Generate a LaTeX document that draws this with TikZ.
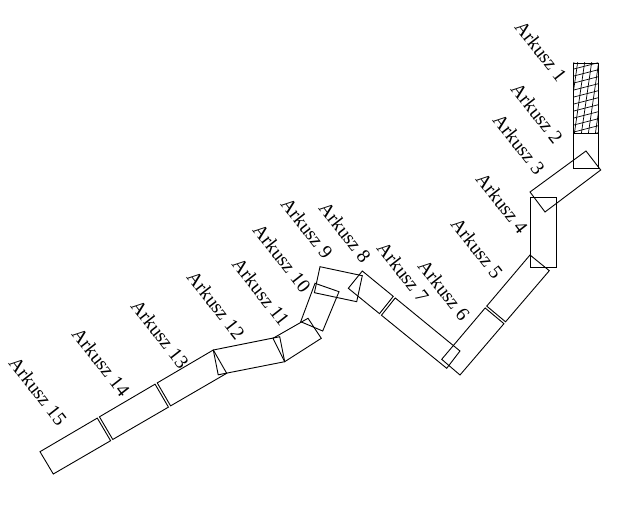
\documentclass[tikz,border=0pt]{standalone}
\usepackage{fontspec}
\setmainfont{Liberation Serif}
\usetikzlibrary{calc}
\tikzset{
  sheet/.style={draw=black, line width=0.9pt, line join=miter},
  hatchline/.style={draw=black, line width=0.7pt},
  lab/.style={font=\fontsize{19.5}{22}\selectfont, rotate=-52, inner sep=0pt}
}
\begin{document}
\begin{tikzpicture}[x=1pt,y=-1pt]
\useasboundingbox (0,0) rectangle (619,508);
% corner coordinates of the sheets
\coordinate (a1) at (530,255);   \coordinate (a2) at (549.3,270.7);
\coordinate (a3) at (460,375);   \coordinate (a4) at (441.7,359.3);
\coordinate (b1) at (362.3,271); \coordinate (b2) at (460,351);
\coordinate (b3) at (446.7,368.3); \coordinate (b4) at (348.3,288.3);
\coordinate (g1) at (213.3,350); \coordinate (g2) at (226.7,373.3);
\coordinate (g3) at (53.3,474);  \coordinate (g4) at (40,451.7);
% Arkusz 1 (hatched)
\begin{scope}
  \clip (573,63) rectangle (598,133);
  \foreach \k in {-2,...,14} {
    \draw[hatchline] (570,{63+7*\k}) -- (601,{63+7*\k-8});
    \draw[hatchline] ({571+7*\k},60) -- ({571+7*\k-11},136);
  }
\end{scope}
\draw[sheet] (573,63) rectangle (598,133);
% Arkusz 2
\draw[sheet] (573,133) rectangle (598,168);
% Arkusz 3
\draw[sheet] (586,151) -- (600.7,170) -- (545,212) -- (530,192) -- cycle;
% Arkusz 4
\draw[sheet] (530,197) rectangle (556,267);
% Arkusz 5 and 6
\draw[sheet] (a1) -- (a2) -- ($(a2)!0.49!(a3)$) -- ($(a1)!0.49!(a4)$) -- cycle;
\draw[sheet] ($(a1)!0.508!(a4)$) -- ($(a2)!0.508!(a3)$) -- (a3) -- (a4) -- cycle;
% Arkusz 7 and 8
\draw[sheet] ($(b1)!0.337!(b2)$) -- (b2) -- (b3) -- ($(b4)!0.337!(b3)$) -- cycle;
\draw[sheet] (b1) -- ($(b1)!0.317!(b2)$) -- ($(b4)!0.317!(b3)$) -- (b4) -- cycle;
% Arkusz 9
\draw[sheet] (320,266.7) -- (362.3,275.7) -- (356.7,301.7) -- (314.4,292.7) -- cycle;
% Arkusz 10
\draw[sheet] (315,283.3) -- (339,291.7) -- (322.7,331) -- (300.7,321.7) -- cycle;
% Arkusz 11
\draw[sheet] (273,338.3) -- (308,318.3) -- (321.3,338.3) -- (284.7,361.7) -- cycle;
% Arkusz 12
\draw[sheet] (213.3,350) -- (279.7,336.7) -- (284.7,361.7) -- (218.2,374.8) -- cycle;
% Arkusz 13, 14, 15
\draw[sheet] (g1) -- (g2) -- ($(g2)!0.3235!(g3)$) -- ($(g1)!0.3235!(g4)$) -- cycle;
\draw[sheet] ($(g1)!0.336!(g4)$) -- ($(g2)!0.336!(g3)$) -- ($(g2)!0.657!(g3)$) -- ($(g1)!0.657!(g4)$) -- cycle;
\draw[sheet] ($(g1)!0.6695!(g4)$) -- ($(g2)!0.6695!(g3)$) -- (g3) -- (g4) -- cycle;
% labels
\node[lab] (l1)  at (541,51)  {Arkusz 1};
\node[lab] (l2)  at (537,113) {Arkusz 2};
\node[lab] (l3)  at (519,144) {Arkusz 3};
\node[lab] (l4)  at (502,203) {Arkusz 4};
\node[lab] (l5)  at (477,248) {Arkusz 5};
\node[lab] (l6)  at (444,290) {Arkusz 6};
\node[lab] (l7)  at (403,272) {Arkusz 7};
\node[lab] (l8)  at (345,232) {Arkusz 8};
\node[lab] (l9)  at (307,228) {Arkusz 9};
\node[lab] (l10) at (282,258) {Arkusz 10};
\node[lab] (l11) at (261,292) {Arkusz 11};
\node[lab] (l12) at (216,305) {Arkusz 12};
\node[lab] (l13) at (160,334) {Arkusz 13};
\node[lab] (l14) at (101,362) {Arkusz 14};
\node[lab] (l15) at (38,391)  {Arkusz 15};
\end{tikzpicture}
\end{document}
